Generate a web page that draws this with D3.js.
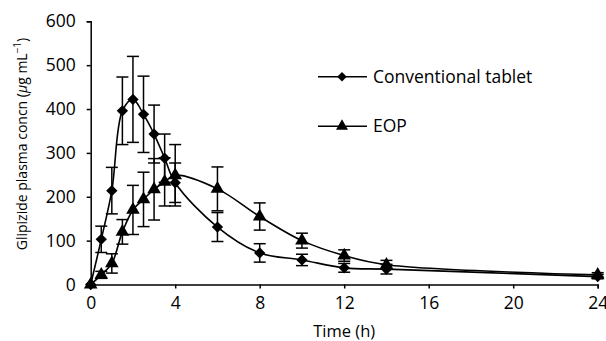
<!DOCTYPE html>
<html>
<head>
<meta charset="utf-8">
<script src="https://cdn.jsdelivr.net/npm/d3@7"></script>
<style>
  body { margin: 0; background: #fff; }
  svg { display: block; font-family: "Open Sans", sans-serif; }
</style>
</head>
<body>
<svg id="chart" width="606" height="341"></svg>
<script>
// sampling times (h)
const times = [0, 0.5, 1, 1.5, 2, 2.5, 3, 3.5, 4, 6, 8, 10, 12, 14, 24];
// conventional tablet, mean and error (ug/mL)
const convMean = [0, 103, 214, 396, 422, 388, 343, 288, 232, 131, 72, 56, 38, 35, 18];
const convErr = [0, 30, 53, 77, 98, 87, 66, 55, 45, 33, 21, 13, 10, 11, 5];
// EOP, mean and error
const eopMean = [0, 22, 48, 120, 170, 194, 217, 234, 249, 218, 155, 100, 66, 45, 22];
const eopErr = [0, 8, 22, 28, 56, 62, 70, 55, 70, 50, 31, 17, 13, 10, 5];
const xTicks = [0, 4, 8, 12, 16, 20, 24];
const yTicks = [0, 100, 200, 300, 400, 500, 600];

const series = [
  { name: "Conventional tablet", mean: convMean, err: convErr, shape: "diamond" },
  { name: "EOP", mean: eopMean, err: eopErr, shape: "triangle" }
];

const svg = d3.select("#chart");
const x = d3.scaleLinear().domain([0, 24]).range([90.7, 597.7]);
const y = d3.scaleLinear().domain([0, 600]).range([284.5, 21.3]);

const symbolFor = s => s === "diamond"
  ? d3.symbol().type(d3.symbolSquare).size(64)
  : d3.symbol().type(d3.symbolTriangle).size(80);

// axes
const xAxis = svg.append("g")
  .attr("transform", `translate(0,${y(0)})`)
  .call(d3.axisBottom(x).tickValues(xTicks).tickSizeOuter(0).tickSize(4).tickPadding(8));
const yAxis = svg.append("g")
  .attr("transform", `translate(${x(0)},0)`)
  .call(d3.axisLeft(y).tickValues(yTicks).tickSizeOuter(0).tickSize(4).tickPadding(11));
[xAxis, yAxis].forEach(g => {
  g.selectAll("path, line").attr("stroke", "#000").attr("stroke-width", 1.5);
  g.selectAll("text").attr("font-size", 17.5).attr("fill", "#000")
    .attr("font-family", "'Open Sans', sans-serif");
});

// titles
svg.append("text")
  .attr("x", (x(0) + x(24)) / 2).attr("y", 337)
  .attr("text-anchor", "middle").attr("font-size", 16.5)
  .text("Time (h)");

const yl = svg.append("text")
  .attr("transform", `translate(27,${144}) rotate(-90)`)
  .attr("text-anchor", "middle").attr("font-size", 14);
yl.append("tspan").text("Glipizide plasma concn (");
yl.append("tspan").attr("font-style", "italic").text("\u03bc");
yl.append("tspan").text("g mL");
yl.append("tspan").attr("font-size", 10).attr("dy", -6).text("\u22121");
yl.append("tspan").attr("dy", 6).text(")");

// curves, error bars, markers
const line = d3.line()
  .x(d => x(d.t)).y(d => y(d.v))
  .curve(d3.curveCatmullRom.alpha(0.5));

series.forEach(s => {
  const pts = times.map((t, i) => ({ t, v: s.mean[i], e: s.err[i] }));
  const g = svg.append("g");
  g.append("path").datum(pts)
    .attr("d", line).attr("fill", "none")
    .attr("stroke", "#000").attr("stroke-width", 1.6);

  const eb = g.selectAll(".eb").data(pts.filter(d => d.e > 0)).join("g");
  eb.append("line")
    .attr("x1", d => x(d.t)).attr("x2", d => x(d.t))
    .attr("y1", d => y(d.v + d.e)).attr("y2", d => y(d.v - d.e))
    .attr("stroke", "#000").attr("stroke-width", 1.5);
  [1, -1].forEach(k => {
    eb.append("line")
      .attr("x1", d => x(d.t) - 6).attr("x2", d => x(d.t) + 6)
      .attr("y1", d => y(d.v + k * d.e)).attr("y2", d => y(d.v + k * d.e))
      .attr("stroke", "#000").attr("stroke-width", 1.5);
  });

  g.selectAll(".m").data(pts).join("path")
    .attr("transform", d => `translate(${x(d.t)},${y(d.v)})${s.shape === "diamond" ? " rotate(45)" : ""}`)
    .attr("d", symbolFor(s.shape)).attr("fill", "#000");
});

// legend
const leg = svg.append("g").selectAll("g").data(series).join("g")
  .attr("transform", (d, i) => `translate(318,${76.7 + i * 49.5})`);
leg.append("line").attr("x1", 0).attr("x2", 49)
  .attr("stroke", "#000").attr("stroke-width", 1.5);
leg.append("path")
  .attr("transform", d => `translate(24,0)${d.shape === "diamond" ? " rotate(45)" : ""}`)
  .attr("d", d => d3.symbol().type(d.shape === "diamond" ? d3.symbolSquare : d3.symbolTriangle)
    .size(d.shape === "diamond" ? 46 : 62)()).attr("fill", "#000");
leg.append("text").attr("x", 55).attr("dy", "0.35em")
  .attr("font-size", 17.5).text(d => d.name);
</script>
</body>
</html>
